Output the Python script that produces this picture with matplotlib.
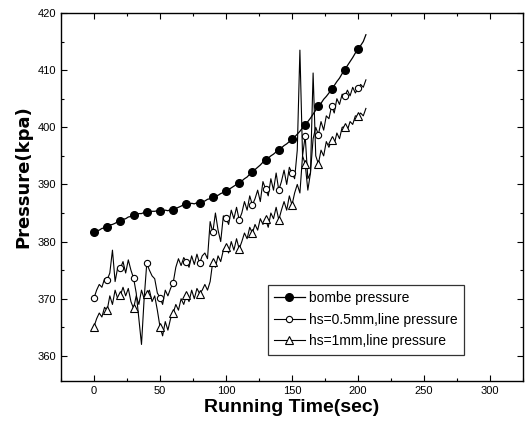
import matplotlib
matplotlib.use("Agg")
import matplotlib.pyplot as plt
from matplotlib.ticker import MultipleLocator
import numpy as np

plt.rcParams['font.family'] = ['Liberation Sans', 'DejaVu Sans']

time_s = list(range(0, 208, 2))

bombe = [381.6, 381.9, 382.0, 382.3, 382.4, 382.6, 382.9, 383.0, 383.2, 383.5,
         383.6, 383.9, 384.0, 384.3, 384.4, 384.6, 384.7, 384.9, 384.9, 385.1,
         385.1, 385.2, 385.3, 385.3, 385.4, 385.4, 385.3, 385.5, 385.4, 385.6,
         385.5, 385.8, 386.0, 386.2, 386.5, 386.6, 386.5, 386.7, 386.6, 386.8,
         386.7, 387.0, 387.1, 387.4, 387.5, 387.8, 388.0, 388.1, 388.4, 388.6,
         388.8, 389.1, 389.4, 389.7, 390.0, 390.3, 390.6, 391.0, 391.3, 391.8,
         392.2, 392.6, 393.0, 393.4, 393.9, 394.3, 394.6, 395.0, 395.3, 395.7,
         396.0, 396.4, 396.8, 397.1, 397.5, 397.9, 398.3, 398.8, 399.3, 399.9,
         400.4, 401.0, 401.6, 402.3, 403.0, 403.7, 404.2, 404.9, 405.4, 406.0,
         406.7, 407.3, 408.0, 408.6, 409.4, 410.1, 410.8, 411.5, 412.2, 413.0,
         413.7, 414.3, 415.0, 416.2]

line_05mm = [370.1, 371.5, 372.5, 372.0, 373.5, 373.3, 374.5, 378.5, 373.0, 375.5,
             375.3, 376.5, 374.5, 376.8, 375.0, 373.6, 371.0, 366.5, 362.0, 370.0,
             376.2, 375.0, 374.0, 373.5, 371.0, 370.2, 369.0, 371.5, 370.5, 371.8,
             372.8, 375.5, 377.0, 375.8, 377.2, 376.5, 375.5, 377.5, 376.0, 377.8,
             376.2, 377.5, 378.0, 377.0, 383.5, 381.6, 385.0, 382.0, 380.0, 384.5,
             384.1, 383.0, 385.5, 384.0, 386.0, 383.8, 385.0, 387.0, 385.5, 388.0,
             386.4, 387.5, 389.0, 387.0, 390.5, 389.2, 388.0, 391.0, 389.0, 392.0,
             389.0, 390.5, 392.5, 390.0, 393.0, 392.0, 391.0, 396.0, 413.5, 395.0,
             398.5, 391.0, 392.0, 398.0, 400.0, 398.7, 401.0, 399.5, 402.0, 401.5,
             403.7, 402.5, 405.0, 404.0, 405.8, 405.4, 406.5, 405.5, 407.0, 406.0,
             406.8, 407.5, 407.0, 408.3]

line_1mm = [365.1, 366.5, 367.5, 366.8, 368.5, 368.0, 370.5, 369.0, 371.5, 370.0,
            370.6, 372.0, 370.5, 371.8, 369.5, 368.3, 370.5, 369.0, 371.5, 370.0,
            370.8, 371.5, 369.5, 370.5, 368.0, 365.1, 363.5, 366.0, 364.5, 366.5,
            367.5, 369.0, 368.0, 370.0, 369.0, 370.6, 369.5, 371.5, 370.0, 371.8,
            370.9, 371.5, 372.5, 371.5, 373.0, 376.5, 375.5, 377.5, 376.5, 378.5,
            379.1, 378.0, 380.0, 378.5, 380.5, 378.7, 380.0, 381.5, 380.5, 382.5,
            381.5, 383.0, 382.0, 384.0, 383.0, 383.9, 382.5, 385.0, 384.0, 386.0,
            383.8, 385.5, 387.0, 385.5, 388.0, 386.4, 388.5, 390.0, 388.5, 395.0,
            393.6, 389.0, 392.0, 409.5, 395.0, 393.6, 396.0, 395.0, 397.5, 396.5,
            397.8, 397.0, 399.0, 398.0, 400.0, 400.1, 399.5, 401.0, 400.5, 402.0,
            401.9, 402.5, 402.0, 403.3]

labels = ["bombe pressure", "hs=0.5mm,line pressure", "hs=1mm,line pressure"]

fig = plt.figure(figsize=(5.27, 4.36), dpi=100)
ax = fig.add_axes([0.1157, 0.1261, 0.8767, 0.8441])

ax.plot(time_s, bombe, color='black', lw=0.9, marker='o', ms=5.5,
        markevery=5, mfc='black', mec='black', label=labels[0])
ax.plot(time_s, line_05mm, color='black', lw=0.8, marker='o', ms=4.5,
        markevery=5, mfc='white', mec='black', mew=0.8, label=labels[1])
ax.plot(time_s, line_1mm, color='black', lw=0.8, marker='^', ms=5.5,
        markevery=5, mfc='white', mec='black', mew=0.8, label=labels[2])

ax.set_xlim(-25, 325)
ax.set_ylim(355.6, 420)
ax.xaxis.set_major_locator(MultipleLocator(50))
ax.xaxis.set_minor_locator(MultipleLocator(25))
ax.yaxis.set_major_locator(MultipleLocator(10))
ax.yaxis.set_minor_locator(MultipleLocator(5))
ax.tick_params(which='both', direction='in', top=True, right=True, labelsize=8)
ax.tick_params(which='major', length=4, width=0.8)
ax.tick_params(which='minor', length=2.5, width=0.8)
for s in ax.spines.values():
    s.set_linewidth(1.0)

ax.set_xlabel("Running Time(sec)", fontsize=14, fontweight='bold', labelpad=2)
ax.set_ylabel("Pressure(kpa)", fontsize=13, fontweight='bold',
              family=['DejaVu Sans'])
ax.yaxis.set_label_coords(-0.061, 0.556)

leg = ax.legend(loc='lower left', bbox_to_anchor=(0.448, 0.072), fontsize=10,
                frameon=True, fancybox=False, edgecolor='black',
                handlelength=2.2, borderpad=0.45, labelspacing=0.55,
                handletextpad=0.3, borderaxespad=0)
leg.get_frame().set_linewidth(0.9)

fig.savefig("out.png", dpi=100)
